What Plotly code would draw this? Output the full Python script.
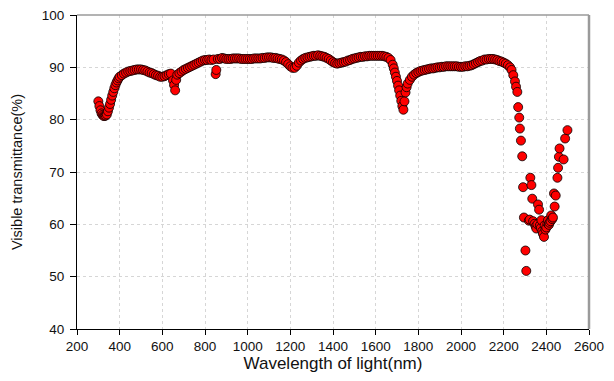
import plotly.graph_objects as go

wavelength = [
    300, 305, 310, 315, 320, 325, 330, 335, 340, 345, 350, 355, 360, 365, 370, 375, 380, 385, 390, 395,
    400, 410, 420, 430, 440, 450, 460, 470, 480, 490, 500, 510, 520, 530, 540, 550, 560, 570, 580, 590,
    600, 610, 620, 630, 640, 650, 655, 660, 665, 670, 680, 690, 700, 710, 720, 730, 740, 750, 760, 770,
    780, 790, 800, 810, 820, 830, 840, 850, 853, 860, 870, 880, 890, 900, 910, 920, 930, 940, 950, 960,
    970, 980, 990, 1000, 1010, 1020, 1030, 1040, 1050, 1060, 1070, 1080, 1090, 1100, 1110, 1120, 1130, 1140, 1150, 1160,
    1170, 1180, 1190, 1200, 1210, 1220, 1230, 1240, 1250, 1260, 1270, 1280, 1290, 1300, 1310, 1320, 1330, 1340, 1350, 1360,
    1370, 1380, 1390, 1400, 1410, 1420, 1430, 1440, 1450, 1460, 1470, 1480, 1490, 1500, 1510, 1520, 1530, 1540, 1550, 1560,
    1570, 1580, 1590, 1600, 1610, 1620, 1630, 1640, 1650, 1660, 1670, 1680, 1685, 1690, 1695, 1700, 1705, 1710, 1715, 1720,
    1725, 1730, 1735, 1740, 1745, 1750, 1760, 1770, 1780, 1790, 1800, 1810, 1820, 1830, 1840, 1850, 1860, 1870, 1880, 1890,
    1900, 1910, 1920, 1930, 1940, 1950, 1960, 1970, 1980, 1990, 2000, 2010, 2020, 2030, 2040, 2050, 2060, 2070, 2080, 2090,
    2100, 2110, 2120, 2130, 2140, 2150, 2160, 2170, 2180, 2190, 2200, 2210, 2220, 2230, 2237, 2245, 2253, 2258, 2264, 2268,
    2273, 2276, 2281, 2287, 2291, 2295, 2302, 2306, 2318, 2322, 2325, 2330, 2334, 2338, 2345, 2350, 2353, 2358, 2361, 2366,
    2370, 2374, 2377, 2381, 2384, 2389, 2392, 2396, 2400, 2405, 2408, 2412, 2415, 2420, 2423, 2428, 2431, 2436, 2439, 2444,
    2452, 2455, 2459, 2462, 2481, 2488, 2499,
]

transmittance = [
    83.5, 82.6, 81.8, 81.2, 80.9, 80.7, 80.7, 80.8, 81.0, 81.6, 82.3, 83.0, 83.8, 84.6, 85.3, 86.0, 86.6, 87.1, 87.5, 87.9,
    88.2, 88.5, 88.8, 89.0, 89.2, 89.3, 89.4, 89.5, 89.6, 89.6, 89.6, 89.5, 89.4, 89.2, 89.0, 88.9, 88.7, 88.5, 88.4, 88.2,
    88.2, 88.3, 88.5, 88.7, 88.8, 87.5, 86.6, 85.6, 87.6, 88.6, 88.9, 89.2, 89.5, 89.7, 89.9, 90.1, 90.3, 90.5, 90.7, 90.9,
    91.1, 91.3, 91.4, 91.4, 91.5, 91.4, 91.5, 88.7, 89.5, 91.6, 91.6, 91.8, 91.7, 91.6, 91.6, 91.6, 91.7, 91.7, 91.7, 91.7,
    91.6, 91.6, 91.6, 91.6, 91.6, 91.6, 91.7, 91.7, 91.7, 91.7, 91.8, 91.8, 91.9, 91.9, 91.9, 91.8, 91.8, 91.7, 91.6, 91.5,
    91.3, 91.0, 90.6, 90.2, 89.9, 89.9, 90.3, 90.9, 91.3, 91.6, 91.8, 91.9, 92.0, 92.1, 92.2, 92.2, 92.3, 92.2, 92.1, 92.0,
    91.8, 91.6, 91.3, 91.0, 90.8, 90.7, 90.8, 90.9, 91.0, 91.1, 91.3, 91.4, 91.6, 91.7, 91.8, 91.9, 92.0, 92.0, 92.1, 92.1,
    92.2, 92.2, 92.2, 92.2, 92.2, 92.2, 92.2, 92.1, 92.0, 91.8, 91.4, 90.5, 89.8, 89.0, 88.2, 87.4, 86.5, 85.6, 84.6, 83.6,
    82.6, 81.9, 83.5, 85.2, 86.2, 86.9, 87.6, 88.2, 88.6, 88.9, 89.1, 89.3, 89.4, 89.5, 89.6, 89.7, 89.8, 89.8, 89.9, 90.0,
    90.0, 90.1, 90.1, 90.2, 90.2, 90.2, 90.2, 90.2, 90.2, 90.1, 90.1, 90.1, 90.2, 90.2, 90.3, 90.4, 90.6, 90.8, 91.0, 91.2,
    91.3, 91.5, 91.5, 91.6, 91.6, 91.6, 91.5, 91.4, 91.2, 91.1, 90.9, 90.7, 90.4, 90.0, 89.5, 88.5, 87.3, 86.3, 85.3, 82.4,
    80.4, 78.3, 76.0, 73.0, 67.1, 61.3, 55.0, 51.1, 60.7, 60.9, 68.9, 67.5, 64.9, 60.6, 60.1, 59.6, 59.2, 60.0, 63.8, 62.8,
    59.8, 59.3, 60.8, 58.7, 58.2, 57.6, 59.8, 59.0, 59.4, 60.2, 60.8, 59.9, 60.3, 60.6, 61.7, 61.0, 61.3, 65.9, 63.4, 65.5,
    68.9, 70.8, 72.9, 74.5, 72.4, 76.4, 78.0,
]

x_ticks = [200, 400, 600, 800, 1000, 1200, 1400, 1600, 1800, 2000, 2200, 2400, 2600]
y_ticks = [40, 50, 60, 70, 80, 90, 100]

FONT = "Liberation Sans, Arial, sans-serif"

fig = go.Figure()
fig.add_trace(go.Scatter(
    x=wavelength, y=transmittance, mode="markers",
    marker=dict(size=9, color="#ff0000", line=dict(color="#000000", width=0.8)),
    showlegend=False, hoverinfo="x+y",
))

fig.update_layout(
    width=614, height=381,
    margin=dict(l=77, r=25, t=15, b=52),
    paper_bgcolor="white", plot_bgcolor="white",
    font=dict(family=FONT, size=13.5, color="#111111"),
    xaxis=dict(
        range=[200, 2600], tickmode="array", tickvals=x_ticks,
        ticktext=[str(t) for t in x_ticks],
        showline=True, linecolor="#000000", linewidth=1,
        ticks="outside", ticklen=5, tickcolor="#000000",
        ticklabelstandoff=0, automargin=False,
        showgrid=True, gridcolor="#d6d6d6", griddash="dot", gridwidth=1,
        zeroline=False, tickfont=dict(size=13.5),
        title=dict(text="Wavelength of light(nm)", font=dict(size=17), standoff=2),
    ),
    yaxis=dict(
        range=[40, 100], tickmode="array", tickvals=y_ticks,
        ticktext=[str(t) for t in y_ticks],
        showline=True, linecolor="#000000", linewidth=1,
        ticks="outside", ticklen=6, tickcolor="#000000",
        ticklabelstandoff=3, automargin=False,
        showgrid=True, gridcolor="#d6d6d6", griddash="dot", gridwidth=1,
        zeroline=False, tickfont=dict(size=13.5),
        title=dict(text="Visible transmittance(%)", font=dict(size=14.5), standoff=15),
    ),
    shapes=[
        dict(type="line", xref="paper", yref="paper", x0=0, x1=1, y0=1, y1=1,
             line=dict(color="#9a9a9a", width=1.5)),
        dict(type="line", xref="paper", yref="paper", x0=1, x1=1, y0=0, y1=1,
             line=dict(color="#9a9a9a", width=2.5)),
    ],
)

fig.write_html("out.html", config={"displayModeBar": False},
               post_script="document.body.style.margin='0';")
